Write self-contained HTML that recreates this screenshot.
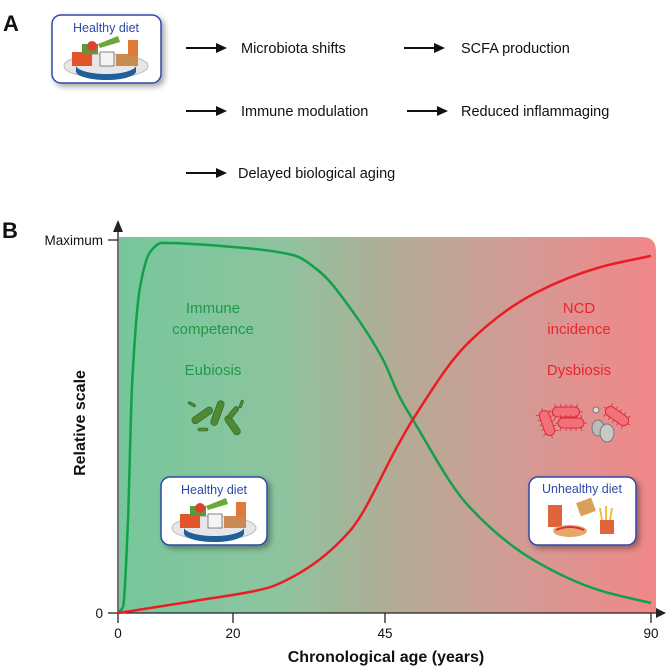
<!DOCTYPE html>
<html><head><meta charset="utf-8"><style>
html,body{margin:0;padding:0;background:#fff;}
svg{display:block;font-family:"Liberation Sans",sans-serif;}
</style></head><body>
<svg id="fig" width="668" height="669" viewBox="0 0 668 669" xmlns="http://www.w3.org/2000/svg">
<defs>
<linearGradient id="bg" x1="0" x2="1" y1="0" y2="0">
<stop offset="0" stop-color="#77c79c"/>
<stop offset="0.3" stop-color="#8dc49f"/>
<stop offset="0.52" stop-color="#b3ab96"/>
<stop offset="0.75" stop-color="#d49a95"/>
<stop offset="1" stop-color="#f18789"/>
</linearGradient>
<filter id="sh" x="-20%" y="-20%" width="150%" height="150%"><feDropShadow dx="3" dy="3" stdDeviation="3" flood-opacity="0.35"/></filter>
<g id="plate">
<ellipse cx="0" cy="8" rx="42" ry="12" fill="#e6e6e6" stroke="#bbb"/>
<path d="M-30,6 A30,9 0 0 0 30,8 L30,14 A30,9 0 0 1 -30,12Z" fill="#1f5f9a"/>
<rect x="-34" y="-6" width="20" height="14" fill="#e2542a"/>
<rect x="-24" y="-14" width="16" height="10" fill="#5a9a3a"/>
<rect x="-6" y="-6" width="14" height="14" fill="#f4f4f4" stroke="#555" stroke-width="0.7"/>
<circle cx="-14" cy="-12" r="5" fill="#e04030"/>
<path d="M-8,-14 L12,-22 L14,-16 L-6,-10Z" fill="#6aa83a"/>
<rect x="10" y="-4" width="22" height="12" fill="#c98a52"/>
<rect x="22" y="-18" width="10" height="16" fill="#e07a3a"/>
</g>
<g id="redrod">
<rect x="-13" y="-5" width="26" height="10" rx="5" fill="#f2707a" stroke="#e02a36" stroke-width="1"/>
<path d="M-10,-5 l-1,-3 M-5,-5 l0,-3 M0,-5 l0,-3 M5,-5 l0,-3 M10,-5 l1,-3 M-10,5 l-1,3 M-5,5 l0,3 M0,5 l0,3 M5,5 l0,3 M10,5 l1,3 M-13,0 l-3,0 M13,0 l3,0" stroke="#e02a36" stroke-width="0.8"/>
</g>
</defs>

<!-- Panel A -->
<text x="3" y="31" font-size="22" font-weight="bold" fill="#111">A</text>
<g>
<rect x="52" y="15" width="109" height="68" rx="9" fill="#fff" stroke="#2e4aa8" stroke-width="1.5" filter="url(#sh)"/>
<text x="106" y="32" font-size="12.5" text-anchor="middle" fill="#2e4aa8">Healthy diet</text>
<use href="#plate" x="106" y="58"/>
</g>
<g font-size="14.5" fill="#111">
<g><line x1="186" y1="48" x2="218" y2="48" stroke="#111" stroke-width="2"/><path d="M216,43 L227,48 L216,53Z" fill="#111"/></g>
<text x="241" y="53">Microbiota shifts</text>
<g><line x1="404" y1="48" x2="436" y2="48" stroke="#111" stroke-width="2"/><path d="M434,43 L445,48 L434,53Z" fill="#111"/></g>
<text x="461" y="53">SCFA production</text>
<g><line x1="186" y1="111" x2="218" y2="111" stroke="#111" stroke-width="2"/><path d="M216,106 L227,111 L216,116Z" fill="#111"/></g>
<text x="241" y="116">Immune modulation</text>
<g><line x1="407" y1="111" x2="439" y2="111" stroke="#111" stroke-width="2"/><path d="M437,106 L448,111 L437,116Z" fill="#111"/></g>
<text x="461" y="116">Reduced inflammaging</text>
<g><line x1="186" y1="173" x2="218" y2="173" stroke="#111" stroke-width="2"/><path d="M216,168 L227,173 L216,178Z" fill="#111"/></g>
<text x="238" y="178">Delayed biological aging</text>
</g>

<!-- Panel B -->
<text x="2" y="238" font-size="22" font-weight="bold" fill="#111">B</text>
<path d="M119,237 L642,237 Q656,237 656,251 L656,613 L119,613Z" fill="url(#bg)"/>

<g id="axes">
<line x1="118" y1="613" x2="660" y2="613" stroke="#222" stroke-width="1.3"/>
<path d="M656,608 L666,613 L656,618Z" fill="#222"/>
<line x1="118" y1="613" x2="118" y2="230" stroke="#222" stroke-width="1.3"/>
<path d="M113,232 L118,220 L123,232Z" fill="#222"/>
<line x1="108" y1="240" x2="118" y2="240" stroke="#222" stroke-width="1.3"/>
<line x1="108" y1="613" x2="118" y2="613" stroke="#222" stroke-width="1.3"/>
<text x="103" y="245" font-size="13.5" text-anchor="end" fill="#111">Maximum</text>
<text x="103" y="618" font-size="13.5" text-anchor="end" fill="#111">0</text>
<text transform="translate(85,423) rotate(-90)" font-size="16" font-weight="bold" text-anchor="middle" fill="#111">Relative scale</text>
<text x="386" y="662" font-size="16" font-weight="bold" text-anchor="middle" fill="#111">Chronological age (years)</text>
</g>

<g id="series"></g>

<g font-size="15" text-anchor="middle">
<text x="213" y="313" fill="#1e9a4a">Immune</text>
<text x="213" y="334" fill="#1e9a4a">competence</text>
<text x="213" y="375" fill="#1e9a4a">Eubiosis</text>
<text x="579" y="313" fill="#e8262c">NCD</text>
<text x="579" y="334" fill="#e8262c">incidence</text>
<text x="579" y="375" fill="#e8262c">Dysbiosis</text>
</g>

<g fill="#4e8a34" stroke="#2f5f22" stroke-width="0.6">
<rect x="190" y="412" width="24" height="7" rx="3.5" transform="rotate(-35 202 415)"/>
<rect x="204" y="410" width="26" height="7" rx="3.5" transform="rotate(-70 217 413)"/>
<rect x="222" y="422" width="22" height="7" rx="3.5" transform="rotate(55 233 425)"/>
<rect x="226" y="410" width="14" height="5" rx="2.5" transform="rotate(-50 233 412)"/>
<rect x="198" y="428" width="10" height="3" rx="1.5"/>
<rect x="237" y="403" width="8" height="2.5" rx="1.2" transform="rotate(-70 241 404)"/>
<rect x="188" y="403" width="8" height="2.5" rx="1.2" transform="rotate(30 192 404)"/>
</g>
<g>
<use href="#redrod" transform="translate(547,423) rotate(70)"/>
<use href="#redrod" transform="translate(566,412) scale(1.05,1)"/>
<use href="#redrod" transform="translate(571,423)"/>
<use href="#redrod" transform="translate(617,416) rotate(35)"/>
<ellipse cx="598" cy="428" rx="6" ry="8" fill="#bbb" stroke="#777"/>
<ellipse cx="607" cy="433" rx="7" ry="9" fill="#c8c8c8" stroke="#777"/>
<circle cx="596" cy="410" r="3" fill="#ddd" stroke="#777"/>
</g>

<g>
<rect x="161" y="477" width="106" height="68" rx="9" fill="#fff" stroke="#2e4aa8" stroke-width="1.5" filter="url(#sh)"/>
<text x="214" y="494" font-size="12.5" text-anchor="middle" fill="#2e4aa8">Healthy diet</text>
<use href="#plate" x="214" y="520"/>
</g>
<g>
<rect x="529" y="477" width="107" height="68" rx="9" fill="#fff" stroke="#2e4aa8" stroke-width="1.5" filter="url(#sh)"/>
<text x="582" y="493" font-size="12.5" text-anchor="middle" fill="#2e4aa8">Unhealthy diet</text>
<rect x="548" y="505" width="14" height="22" fill="#e0643a"/>
<ellipse cx="570" cy="531" rx="17" ry="6" fill="#e6a86a"/>
<path d="M556,530 Q570,524 584,530" stroke="#d8333a" stroke-width="2" fill="none"/>
<rect x="578" y="500" width="16" height="14" fill="#d9a05a" transform="rotate(-20 586 507)"/>
<rect x="600" y="520" width="14" height="14" fill="#e0643a"/>
<path d="M602,520 L600,508 M606,520 L606,506 M610,520 L612,508" stroke="#f0c040" stroke-width="2"/>
</g>

<script>
const xTickLabels = ["0", "20", "45", "90"];
const xTickAges = [0, 20, 45, 90];
const greenAges = [0, 0.87, 1.74, 2.43, 3.83, 5.57, 7.65, 20, 29.9, 34.3, 39.7, 44.7, 47.5, 49.7, 59, 70.4, 81.5, 90];
const greenValues = [0, 0.016, 0.25, 0.61, 0.875, 0.97, 0.995, 0.984, 0.962, 0.917, 0.81, 0.68, 0.58, 0.52, 0.29, 0.14, 0.06, 0.027];
const redAges = [0, 14.3, 25.6, 31, 39.2, 47.5, 49.7, 59, 70.4, 81.5, 90];
const redValues = [0, 0.035, 0.067, 0.108, 0.22, 0.46, 0.52, 0.725, 0.86, 0.93, 0.96];

const NS = "http://www.w3.org/2000/svg";
const ageDomain = [0, 20, 45, 90];
const pxRange = [118, 233, 385, 651];
function xScale(a) {
  for (let i = 0; i < ageDomain.length - 1; i++) {
    if (a <= ageDomain[i + 1] || i === ageDomain.length - 2) {
      const t = (a - ageDomain[i]) / (ageDomain[i + 1] - ageDomain[i]);
      return pxRange[i] + t * (pxRange[i + 1] - pxRange[i]);
    }
  }
}
function yScale(v) { return 613 - v * 372; }
function smoothPath(xs, ys) {
  const X = xs.map(xScale), Y = ys.map(yScale), n = X.length;
  const d = [], m = new Array(n);
  for (let i = 0; i < n - 1; i++) d.push((Y[i + 1] - Y[i]) / (X[i + 1] - X[i]));
  m[0] = d[0]; m[n - 1] = d[n - 2];
  for (let i = 1; i < n - 1; i++) {
    if (d[i - 1] * d[i] <= 0) m[i] = 0;
    else {
      const h0 = X[i] - X[i - 1], h1 = X[i + 1] - X[i];
      const w1 = 2 * h1 + h0, w2 = h1 + 2 * h0;
      m[i] = (w1 + w2) / (w1 / d[i - 1] + w2 / d[i]);
    }
  }
  let s = "M" + X[0].toFixed(1) + "," + Y[0].toFixed(1);
  for (let i = 0; i < n - 1; i++) {
    const h = (X[i + 1] - X[i]) / 3;
    s += " C" + (X[i] + h).toFixed(1) + "," + (Y[i] + m[i] * h).toFixed(1) + " " +
      (X[i + 1] - h).toFixed(1) + "," + (Y[i + 1] - m[i + 1] * h).toFixed(1) + " " +
      X[i + 1].toFixed(1) + "," + Y[i + 1].toFixed(1);
  }
  return s;
}
const axes = document.getElementById("axes");
xTickAges.forEach((a, i) => {
  const x = xScale(a);
  const t = document.createElementNS(NS, "line");
  t.setAttribute("x1", x); t.setAttribute("x2", x);
  t.setAttribute("y1", 613); t.setAttribute("y2", 623);
  t.setAttribute("stroke", "#222"); t.setAttribute("stroke-width", "1.3");
  
  
  axes.appendChild(t);
  const lb = document.createElementNS(NS, "text");
  lb.setAttribute("x", x); lb.setAttribute("y", 638);
  lb.setAttribute("font-size", "13.5"); lb.setAttribute("text-anchor", "middle"); lb.setAttribute("fill", "#111");
  lb.textContent = xTickLabels[i];
  
  
  axes.appendChild(lb);
});
const series = document.getElementById("series");
const g = document.createElementNS(NS, "path");
g.setAttribute("d", smoothPath(greenAges, greenValues));
g.setAttribute("fill", "none"); g.setAttribute("stroke", "#13a04a"); g.setAttribute("stroke-width", "2.5");


series.appendChild(g);
const r = document.createElementNS(NS, "path");
r.setAttribute("d", smoothPath(redAges, redValues));
r.setAttribute("fill", "none"); r.setAttribute("stroke", "#ec1c24"); r.setAttribute("stroke-width", "2.5");


series.appendChild(r);
</script>
</svg>
</body></html>
